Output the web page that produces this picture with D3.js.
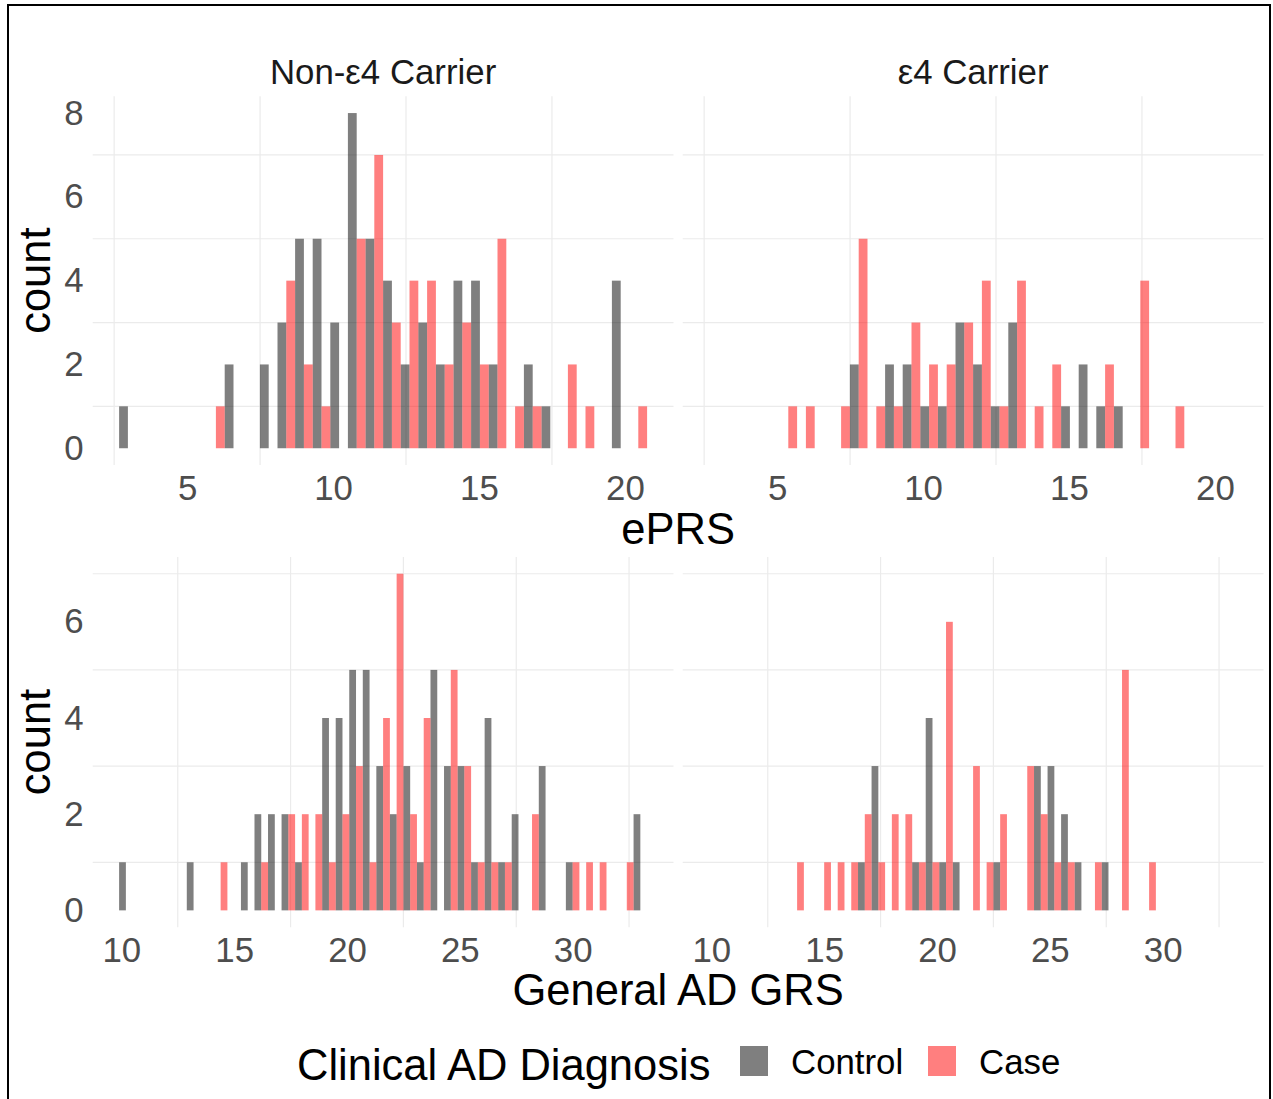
<!DOCTYPE html>
<html>
<head>
<meta charset="utf-8">
<script src="https://cdn.jsdelivr.net/npm/d3@7"></script>
<style>
body { margin: 0; background: #fff; }
svg { font-family: "Liberation Sans", Arial, sans-serif; }
</style>
</head>
<body>
<svg width="1273" height="1099"></svg>
<script>
const svg = d3.select('svg');

// ePRS histogram (30 bins, dodged)
const eprsBinStart = 2.67;
const eprsBinWidth = 0.603;
const eprsNonE4Control = [1,0,0,0,0,0,2,0,2,3,5,5,3,8,5,4,2,3,2,4,4,2,0,2,1,0,0,0,4,0];
const eprsNonE4Case    = [0,0,0,0,0,1,0,0,0,4,2,1,0,5,7,3,4,4,2,3,2,5,1,1,0,2,1,0,0,1];
const eprsE4Control    = [0,0,0,0,0,0,0,0,2,0,2,2,1,1,3,2,1,3,0,0,1,2,1,1,0,0,0,0,0,0];
const eprsE4Case       = [0,0,0,0,1,1,0,1,5,1,1,3,2,2,3,4,1,4,1,2,0,0,2,0,4,0,1,0,0,0];

// General AD GRS histogram (39 bins, dodged)
const grsBinStart = 9.9;
const grsBinWidth = 0.6;
const grsNonE4Control = [1,0,0,0,0,1,0,0,0,1,2,2,2,1,0,4,4,5,5,3,2,3,1,5,3,3,1,4,1,2,0,3,0,1,0,0,0,0,2];
const grsNonE4Case    = [0,0,0,0,0,0,0,1,0,0,1,0,2,2,2,1,2,3,1,4,7,2,4,0,5,3,1,1,1,0,2,0,0,1,1,1,0,1,0];
const grsE4Control    = [0,0,0,0,0,0,0,0,0,0,0,1,3,0,0,1,4,1,1,0,0,1,0,0,3,3,2,1,0,1,0,0,0,0,0,0,0,0,0];
const grsE4Case       = [0,0,0,0,0,0,1,0,1,1,1,2,1,2,2,1,1,6,0,3,1,2,0,3,2,1,1,0,1,0,5,0,1,0,0,0,0,0,0];

const facets = ['Non-\u03b54 Carrier', '\u03b54 Carrier'];
const groups = ['Control', 'Case'];

const eprsXTicks = [5, 10, 15, 20];
const eprsYTicks = [0, 2, 4, 6, 8];
const eprsXMinor = [2.5, 7.5, 12.5, 17.5];
const eprsYMinor = [1, 3, 5, 7];
const grsXTicks = [10, 15, 20, 25, 30];
const grsYTicks = [0, 2, 4, 6];
const grsXMinor = [12.5, 17.5, 22.5, 27.5, 32.5];
const grsYMinor = [1, 3, 5, 7];

const colors = {Control: 'black', Case: 'red'};

const panelX = [[92.7, 673.5], [682.7, 1263.5]];

let drawPanel = (control, cases, binStart, binWidth, xScale, yScale, xMinor, yMinor) => {
    let layer = svg.append('g');
    let [x0, x1] = xScale.range();
    let [y0, y1] = yScale.range();

    layer.selectAll('.hgrid')
        .data(yMinor)
        .enter().append('line')
        .attr('x1', x0).attr('x2', x1)
        .attr('y1', d => yScale(d)).attr('y2', d => yScale(d))
        .style('stroke', '#ebebeb')
        .style('stroke-width', 1.2);

    layer.selectAll('.vgrid')
        .data(xMinor)
        .enter().append('line')
        .attr('y1', y0).attr('y2', y1)
        .attr('x1', d => xScale(d)).attr('x2', d => xScale(d))
        .style('stroke', '#ebebeb')
        .style('stroke-width', 1.2);

    let bars = [];
    control.forEach((n, i) => bars.push({group: 'Control', lo: binStart + i * binWidth, hi: binStart + (i + 0.5) * binWidth, n: n}));
    cases.forEach((n, i) => bars.push({group: 'Case', lo: binStart + (i + 0.5) * binWidth, hi: binStart + (i + 1) * binWidth, n: n}));

    layer.selectAll('.bar')
        .data(bars.filter(d => d.n > 0))
        .enter().append('rect')
        .attr('x', d => xScale(d.lo))
        .attr('width', d => xScale(d.hi) - xScale(d.lo))
        .attr('y', d => yScale(d.n))
        .attr('height', d => yScale(0) - yScale(d.n))
        .style('fill', d => colors[d.group])
        .style('fill-opacity', 0.5);
}

let styleAxis = (g) => {
    g.select('.domain').remove();
    g.selectAll('text')
        .style('font-size', '34.8px')
        .style('fill', '#4d4d4d')
        .style('font-family', '"Liberation Sans", Arial, sans-serif');
}

let drawRow = (series, binStart, binWidth, yRange, xTicks, yTicks, xMinor, yMinor, title, titleY) => {
    let nBins = series[0].length;
    let lo = binStart, hi = binStart + nBins * binWidth;
    let pad = 0.05 * (hi - lo);
    let yMax = d3.max(series.flat());
    let yScale = d3.scaleLinear().domain([-0.05 * yMax, yMax * 1.05]).range(yRange);

    panelX.forEach((range, p) => {
        let xScale = d3.scaleLinear().domain([lo - pad, hi + pad]).range(range);
        drawPanel(series[p * 2], series[p * 2 + 1], binStart, binWidth, xScale, yScale, xMinor, yMinor);

        svg.append('g')
            .attr('transform', 'translate(0,' + yRange[0] + ')')
            .call(d3.axisBottom(xScale).tickValues(xTicks).tickSize(0).tickPadding(10))
            .call(styleAxis);

        if (p === 0) {
            svg.append('g')
                .attr('transform', 'translate(' + range[0] + ',0)')
                .call(d3.axisLeft(yScale).tickValues(yTicks).tickSize(0).tickPadding(9))
                .call(styleAxis);
        }
    });

    svg.append('text')
        .attr('transform', 'translate(50,' + (yRange[0] + yRange[1]) / 2 + ') rotate(-90)')
        .style('text-anchor', 'middle')
        .style('font-size', '43.5px')
        .text('count');

    svg.append('text')
        .attr('x', (panelX[0][0] + panelX[1][1]) / 2)
        .attr('y', titleY)
        .style('text-anchor', 'middle')
        .style('font-size', '43.5px')
        .text(title);
}

drawRow([eprsNonE4Control, eprsNonE4Case, eprsE4Control, eprsE4Case], eprsBinStart, eprsBinWidth,
    [465, 96.3], eprsXTicks, eprsYTicks, eprsXMinor, eprsYMinor, 'ePRS', 544);
drawRow([grsNonE4Control, grsNonE4Case, grsE4Control, grsE4Case], grsBinStart, grsBinWidth,
    [927.2, 556.9], grsXTicks, grsYTicks, grsXMinor, grsYMinor, 'General AD GRS', 1005);

// strip labels (top row only)
svg.selectAll('.strip')
    .data(facets)
    .enter().append('text')
    .attr('x', (d, i) => (panelX[i][0] + panelX[i][1]) / 2)
    .attr('y', 84)
    .style('text-anchor', 'middle')
    .style('font-size', '34.8px')
    .style('fill', '#1a1a1a')
    .text(d => d);

// legend
let legend = svg.append('g');
legend.append('text')
    .attr('x', 297)
    .attr('y', 1080)
    .style('font-size', '43.5px')
    .text('Clinical AD Diagnosis');

let keyX = {Control: 740, Case: 928};
groups.forEach(g => {
    legend.append('rect')
        .attr('x', keyX[g]).attr('y', 1046)
        .attr('width', 28).attr('height', 30)
        .style('fill', colors[g])
        .style('fill-opacity', 0.5);
    legend.append('text')
        .attr('x', keyX[g] + 51)
        .attr('y', 1073.5)
        .style('font-size', '34.8px')
        .text(g);
});

svg.append('rect')
    .attr('x', 8).attr('y', 5)
    .attr('width', 1262).attr('height', 1100)
    .style('fill', 'none')
    .style('stroke', 'black')
    .style('stroke-width', 2);
</script>
</body>
</html>
